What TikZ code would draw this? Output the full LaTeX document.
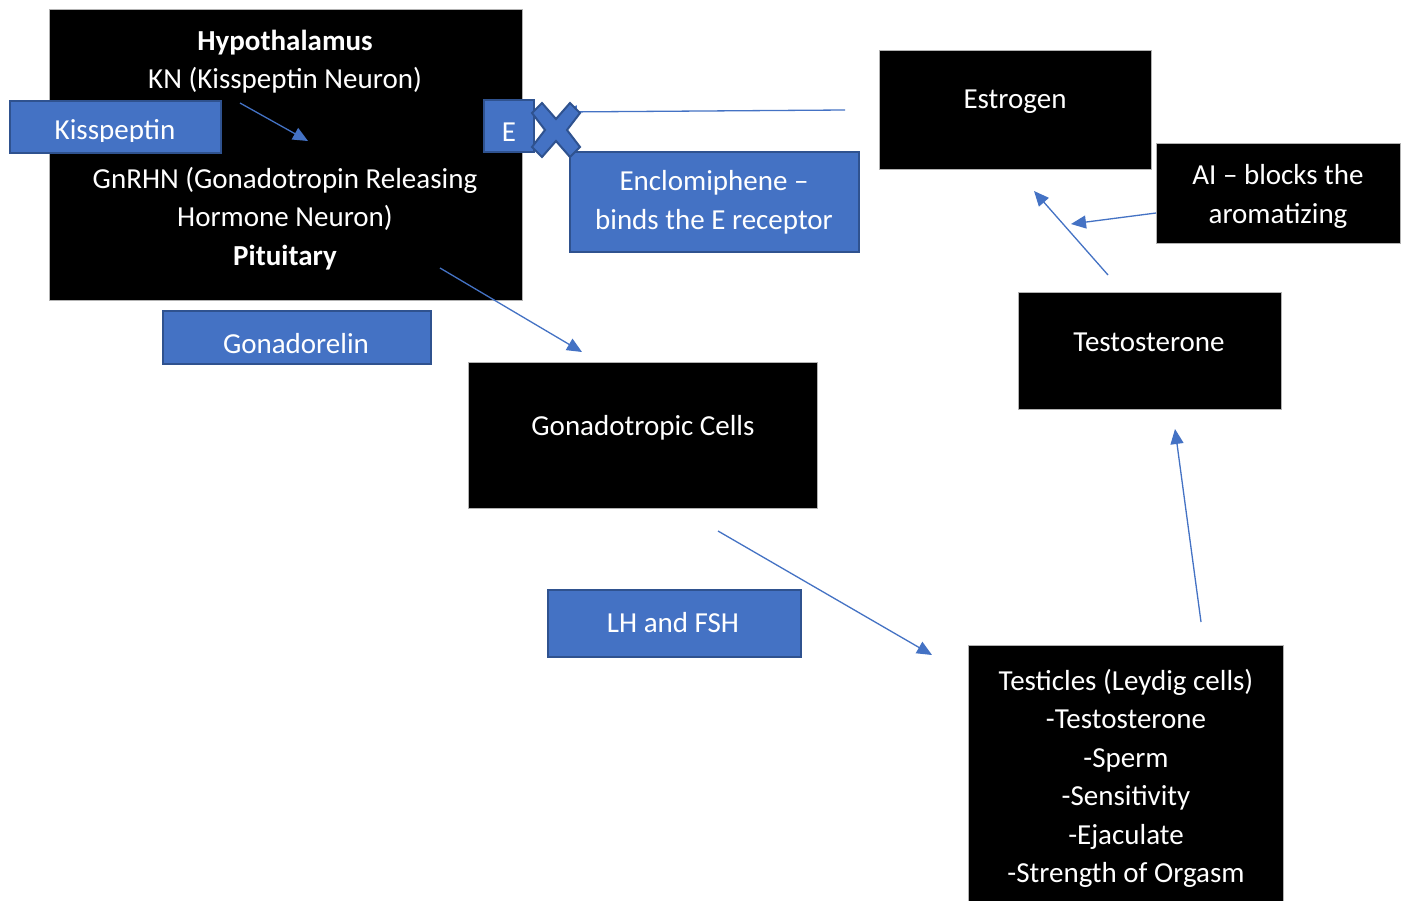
\documentclass[tikz,border=0pt]{standalone}
\usepackage{fontspec}
\setmainfont{Carlito}
\usetikzlibrary{arrows.meta}
\definecolor{bfill}{HTML}{4472C4}
\definecolor{bdraw}{HTML}{2F528F}
\begin{document}
\begin{tikzpicture}[x=1pt,y=-1pt,
  blackbox/.style={fill=black,draw=gray!60,line width=0.8pt,inner sep=0pt,anchor=north west},
  bluebox/.style={fill=bfill,draw=bdraw,line width=2pt,inner sep=0pt,anchor=north west},
  txt/.style={text=white,font=\fontsize{29}{38.5}\selectfont,align=center,inner sep=0pt,yshift=-2.5pt},
  conn/.style={draw=bfill,line width=1.3pt,-{Triangle[length=15pt,width=13pt]}}]
\fill[white] (0,0) rectangle (1404,901);
\useasboundingbox (0,0) rectangle (1404,901);

% boxes
\node[blackbox,minimum width=473pt,minimum height=291pt] (hyp) at (49,9) {};
\node[txt] (hyptop) at (285,59) {\textbf{Hypothalamus}\\KN (Kisspeptin Neuron)};
\node[txt] (hypbot) at (285,216) {GnRHN (Gonadotropin Releasing\\Hormone Neuron)\\\textbf{Pituitary}};

\node[bluebox,minimum width=211pt,minimum height=52pt] (kissbox) at (9,100) {};
\begin{scope}
\clip (9,100) rectangle (220,142);
\node[txt,anchor=base,yshift=2.5pt] (kisstxt) at (115,140) {Kisspeptin};
\end{scope}

\node[bluebox,minimum width=50pt,minimum height=52pt] (ebox) at (483,99) {};
\node[txt] (etxt) at (509,130) {E};

\node[bluebox,minimum width=289pt,minimum height=100pt] (enclbox) at (569,151) {};
\node[txt] (encltxt) at (714,200) {Enclomiphene --\\binds the E receptor};

\node[bluebox,minimum width=268pt,minimum height=53pt] (gonrbox) at (162,310) {};
\node[txt] (gonrtxt) at (296,341) {Gonadorelin};

\node[blackbox,minimum width=349pt,minimum height=146pt] (gcbox) at (468,362) {};
\node[txt] (gctxt) at (643,425) {Gonadotropic Cells};

\node[bluebox,minimum width=253pt,minimum height=67pt] (lhbox) at (547,589) {};
\node[txt] (lhtxt) at (673,620) {LH and FSH};

\node[blackbox,minimum width=315pt,minimum height=258pt] (testbox) at (968,645) {};
\node[txt] (testtxt) at (1126,776) {Testicles (Leydig cells)\\-Testosterone\\-Sperm\\-Sensitivity\\-Ejaculate\\-Strength of Orgasm};

\node[blackbox,minimum width=263pt,minimum height=117pt] (tbox) at (1018,292) {};
\node[txt] (ttxt) at (1149,340) {Testosterone};

\node[blackbox,minimum width=272pt,minimum height=119pt] (ebox2) at (879,50) {};
\node[txt] (estxt) at (1015,99) {Estrogen};

\node[blackbox,minimum width=244pt,minimum height=100pt] (aibox) at (1156,143) {};
\node[txt] (aitxt) at (1278,194) {AI -- blocks the\\aromatizing};

% connectors
\coordinate (kn) at (240,103);
\coordinate (gnrh) at (308,141);
\draw[conn] (kn) -- (gnrh);

\coordinate (pit) at (440,268);
\coordinate (gcin) at (582,352);
\draw[conn] (pit) -- (gcin);

\coordinate (gcout) at (718,531);
\coordinate (testin) at (932,655);
\draw[conn] (gcout) -- (testin);

\coordinate (testout) at (1201,622);
\coordinate (tin) at (1175,429);
\draw[conn] (testout) -- (tin);

\coordinate (tout) at (1108,275);
\coordinate (esin) at (1034,191);
\draw[conn] (tout) -- (esin);

\coordinate (aiout) at (1156,213);
\coordinate (aihit) at (1071,224);
\draw[conn] (aiout) -- (aihit);

\coordinate (esout) at (845,110);
\coordinate (xhit) at (562,112);
\draw[conn] (esout) -- (xhit);

% the X mark
\begin{scope}[shift={(556,130)}]
\draw[fill=bfill,draw=bdraw,line width=2pt,line join=miter]
  (-24,-17) -- (-14,-27) -- (0,-11) -- (14,-27) -- (24,-17) -- (11,0)
  -- (24,17) -- (14,27) -- (0,11) -- (-14,27) -- (-24,17) -- (-11,0) -- cycle;
\end{scope}
\end{tikzpicture}
\end{document}
